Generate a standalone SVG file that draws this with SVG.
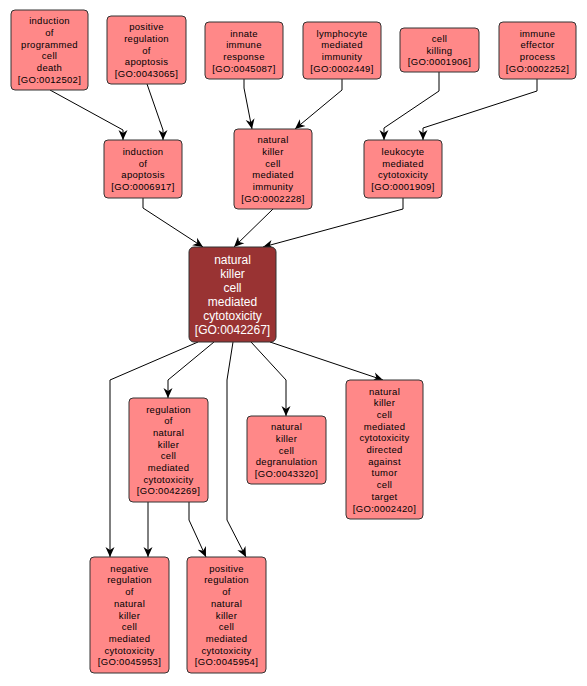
<svg xmlns="http://www.w3.org/2000/svg" width="587" height="686" viewBox="0 0 587 686">
<style>
.bg{fill:#ffffff}
.n rect{fill:#ff8888;stroke:#333333;stroke-width:1}
.n text{font-family:"Liberation Sans",Arial,sans-serif;font-size:9.5px;letter-spacing:0.3px;fill:#000000;text-anchor:middle}
.c rect{fill:#993333;stroke:#333333;stroke-width:1}
.c text{font-family:"Liberation Sans",Arial,sans-serif;font-size:12px;fill:#ffffff;text-anchor:middle}
.e path{fill:none;stroke:#000000;stroke-width:1;marker-end:url(#arr)}
</style>
<defs>
<marker id="arr" markerUnits="userSpaceOnUse" viewBox="0 0 10 10" refX="10" refY="5" markerWidth="10" markerHeight="10" orient="auto">
<path d="M0,0.5 L10,5 L0,9.5 L3,5 z" fill="#000000"/>
</marker>
</defs>
<rect class="bg" x="0" y="0" width="587" height="686"/>
<g id="edges" class="e">
<path d="M50,90 L123,130 L123,140"/>
<path d="M147,84 L163,130 L163,140"/>
<path d="M244,79 L244,88 L252,129"/>
<path d="M342,79 L342,90 L295,129"/>
<path d="M439,72 L439,91 L384,128 L384,140"/>
<path d="M537,79 L537,91 L423,128 L423,140"/>
<path d="M143,198 L143,208 L203,247"/>
<path d="M273,209 L234,247"/>
<path d="M403,198 L403,209 L263,247"/>
<path d="M198,342 L110,380 L110,557"/>
<path d="M214,342 L168,380 L168,398"/>
<path d="M233,342 L227,380 L227,520 L246,557"/>
<path d="M251,342 L286,380 L286,416"/>
<path d="M270,342 L383,380"/>
<path d="M148,502 L148,557"/>
<path d="M189,502 L189,520 L206,557"/>
</g>
<g id="GO0012502" class="n">
<rect x="11" y="10" width="77" height="80" rx="4"/>
<text x="49.5" y="24.3">induction</text><text x="49.5" y="36">of</text><text x="49.5" y="47.7">programmed</text><text x="49.5" y="59.4">cell</text><text x="49.5" y="71.1">death</text><text x="49.5" y="82.8">[GO:0012502]</text>
</g>
<g id="GO0043065" class="n">
<rect x="107" y="16" width="79" height="68" rx="4"/>
<text x="146.5" y="30.1">positive</text><text x="146.5" y="41.8">regulation</text><text x="146.5" y="53.5">of</text><text x="146.5" y="65.2">apoptosis</text><text x="146.5" y="76.9">[GO:0043065]</text>
</g>
<g id="GO0045087" class="n">
<rect x="205" y="22" width="78" height="57" rx="4"/>
<text x="244" y="36.5">innate</text><text x="244" y="48.2">immune</text><text x="244" y="59.9">response</text><text x="244" y="71.6">[GO:0045087]</text>
</g>
<g id="GO0002449" class="n">
<rect x="303" y="22" width="78" height="57" rx="4"/>
<text x="342" y="36.5">lymphocyte</text><text x="342" y="48.2">mediated</text><text x="342" y="59.9">immunity</text><text x="342" y="71.6">[GO:0002449]</text>
</g>
<g id="GO0001906" class="n">
<rect x="400" y="28" width="79" height="44" rx="4"/>
<text x="439.5" y="41.8">cell</text><text x="439.5" y="53.5">killing</text><text x="439.5" y="65.2">[GO:0001906]</text>
</g>
<g id="GO0002252" class="n">
<rect x="499" y="22" width="77" height="57" rx="4"/>
<text x="537.5" y="36.5">immune</text><text x="537.5" y="48.2">effector</text><text x="537.5" y="59.9">process</text><text x="537.5" y="71.6">[GO:0002252]</text>
</g>
<g id="GO0006917" class="n">
<rect x="104" y="140" width="78" height="58" rx="4"/>
<text x="143" y="155">induction</text><text x="143" y="166.7">of</text><text x="143" y="178.4">apoptosis</text><text x="143" y="190.1">[GO:0006917]</text>
</g>
<g id="GO0002228" class="n">
<rect x="234" y="129" width="78" height="80" rx="4"/>
<text x="273" y="143.3">natural</text><text x="273" y="155">killer</text><text x="273" y="166.7">cell</text><text x="273" y="178.4">mediated</text><text x="273" y="190.1">immunity</text><text x="273" y="201.8">[GO:0002228]</text>
</g>
<g id="GO0001909" class="n">
<rect x="364" y="140" width="78" height="58" rx="4"/>
<text x="403" y="155">leukocyte</text><text x="403" y="166.7">mediated</text><text x="403" y="178.4">cytotoxicity</text><text x="403" y="190.1">[GO:0001909]</text>
</g>
<g id="GO0042267" class="c">
<rect x="189" y="247" width="87" height="95" rx="5"/>
<text x="232.5" y="263.5">natural</text><text x="232.5" y="277.5">killer</text><text x="232.5" y="291.5">cell</text><text x="232.5" y="305.5">mediated</text><text x="232.5" y="319.5">cytotoxicity</text><text x="232.5" y="333.5">[GO:0042267]</text>
</g>
<g id="GO0042269" class="n">
<rect x="129" y="398" width="79" height="104" rx="4"/>
<text x="168.5" y="412.5">regulation</text><text x="168.5" y="424.2">of</text><text x="168.5" y="435.9">natural</text><text x="168.5" y="447.6">killer</text><text x="168.5" y="459.3">cell</text><text x="168.5" y="471">mediated</text><text x="168.5" y="482.7">cytotoxicity</text><text x="168.5" y="494.4">[GO:0042269]</text>
</g>
<g id="GO0043320" class="n">
<rect x="247" y="416" width="79" height="68" rx="4"/>
<text x="286.5" y="430.1">natural</text><text x="286.5" y="441.8">killer</text><text x="286.5" y="453.5">cell</text><text x="286.5" y="465.2">degranulation</text><text x="286.5" y="476.9">[GO:0043320]</text>
</g>
<g id="GO0002420" class="n">
<rect x="346" y="380" width="77" height="139" rx="4"/>
<text x="384.5" y="394.5">natural</text><text x="384.5" y="406.2">killer</text><text x="384.5" y="417.9">cell</text><text x="384.5" y="429.6">mediated</text><text x="384.5" y="441.3">cytotoxicity</text><text x="384.5" y="453">directed</text><text x="384.5" y="464.7">against</text><text x="384.5" y="476.4">tumor</text><text x="384.5" y="488.1">cell</text><text x="384.5" y="499.8">target</text><text x="384.5" y="511.5">[GO:0002420]</text>
</g>
<g id="GO0045953" class="n">
<rect x="90" y="557" width="79" height="116" rx="4"/>
<text x="129.5" y="571.7">negative</text><text x="129.5" y="583.4">regulation</text><text x="129.5" y="595.1">of</text><text x="129.5" y="606.8">natural</text><text x="129.5" y="618.5">killer</text><text x="129.5" y="630.2">cell</text><text x="129.5" y="641.9">mediated</text><text x="129.5" y="653.6">cytotoxicity</text><text x="129.5" y="665.3">[GO:0045953]</text>
</g>
<g id="GO0045954" class="n">
<rect x="187" y="557" width="79" height="116" rx="4"/>
<text x="226.5" y="571.7">positive</text><text x="226.5" y="583.4">regulation</text><text x="226.5" y="595.1">of</text><text x="226.5" y="606.8">natural</text><text x="226.5" y="618.5">killer</text><text x="226.5" y="630.2">cell</text><text x="226.5" y="641.9">mediated</text><text x="226.5" y="653.6">cytotoxicity</text><text x="226.5" y="665.3">[GO:0045954]</text>
</g>
</svg>
